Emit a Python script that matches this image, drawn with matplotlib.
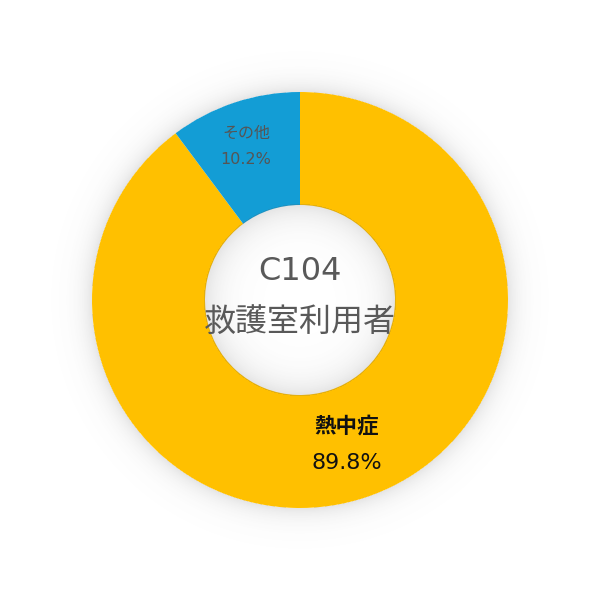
import numpy as np
import matplotlib.pyplot as plt

plt.rcParams['font.family'] = ['DejaVu Sans', 'Noto Sans CJK JP']

# data
labels = ['熱中症', 'その他']
values = [89.8, 10.2]
colors = ['#FFC000', '#139DD5']
center_title = ['C104', '救護室利用者']

R_OUT = 208
R_IN = 95

fig = plt.figure(figsize=(6, 6), dpi=100)
ax = fig.add_axes([0, 0, 1, 1])

wedges, _ = ax.pie(values, colors=colors, startangle=90, counterclock=False,
                   radius=R_OUT, center=(0, 0),
                   wedgeprops=dict(width=R_OUT - R_IN, linewidth=0))
for w in wedges:
    w.set_zorder(1)

# pie resets the limits, so set them afterwards
ax.set_xlim(-300, 300)
ax.set_ylim(-300, 300)
ax.set_aspect('equal')
ax.axis('off')

# soft shadows (outer drop shadow and inset shadow in the hole)
yy, xx = np.mgrid[-300:300, -300:300] + 0.5
rr = np.hypot(xx, yy)
shade = np.zeros_like(rr)
out = rr >= R_OUT
shade[out] = 0.16 * np.exp(-(rr[out] - R_OUT) / 11.0)
inn = rr < R_IN + 1
shade[inn] = 0.16 * np.exp(-(R_IN - rr[inn]) / 16.0)
img = np.zeros(rr.shape + (4,))
img[..., :3] = 0.35
img[..., 3] = shade
ax.imshow(img, extent=(-300, 300, -300, 300), origin='lower', zorder=2,
          interpolation='bilinear')
ax.set_xlim(-300, 300)
ax.set_ylim(-300, 300)

# wedge labels
ax.text(47, -126, labels[0], ha='center', va='center', fontsize=15.5,
        fontweight='bold', color='#111111', zorder=3)
ax.text(47, -163, f'{values[0]:.1f}%', ha='center', va='center', fontsize=16,
        color='#111111', zorder=3)
ax.text(-54, 167, labels[1], ha='center', va='center', fontsize=11.5,
        color='#555555', zorder=3)
ax.text(-54, 140, f'{values[1]:.1f}%', ha='center', va='center', fontsize=11.5,
        color='#555555', zorder=3)

# center title
ax.text(0, 29, center_title[0], ha='center', va='center', fontsize=23,
        color='#595959', zorder=3)
ax.text(0, -22, center_title[1], ha='center', va='center', fontsize=23,
        color='#595959', zorder=3)

fig.savefig('out.png', dpi=100, facecolor='white')
